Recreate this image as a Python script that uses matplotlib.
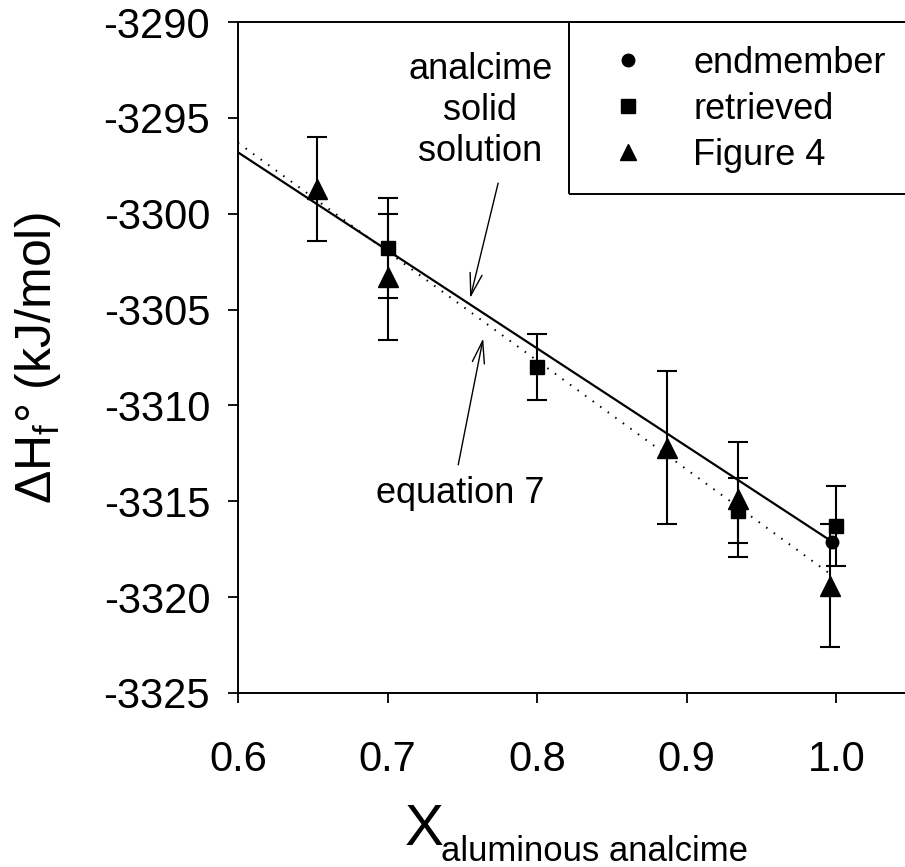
import matplotlib
matplotlib.use('Agg')
import matplotlib.pyplot as plt
from matplotlib.lines import Line2D
from matplotlib.patches import Rectangle

plt.rcParams['font.family'] = ['Liberation Sans', 'DejaVu Sans']
plt.rcParams['mathtext.fontset'] = 'custom'
plt.rcParams['mathtext.rm'] = 'Liberation Sans'

# data
x_end = [0.997]
y_end = [-3317.1]

x_ret = [0.700, 0.800, 0.934, 1.000]
y_ret = [-3301.8, -3308.0, -3315.5, -3316.3]
err_ret = [2.6, 1.7, 1.7, 2.1]

x_fig4 = [0.653, 0.700, 0.887, 0.934, 0.996]
y_fig4 = [-3298.7, -3303.3, -3312.2, -3314.9, -3319.4]
err_fig4 = [2.7, 3.3, 4.0, 3.0, 3.2]

# analcime solid solution (solid) and equation 7 (dotted)
ss_x = [0.6, 0.997]
ss_y = [-3296.8, -3317.1]
eq7_x = [0.6, 0.996]
eq7_y = [-3296.3, -3318.8]

xticks = [0.6, 0.7, 0.8, 0.9, 1.0]
yticks = [-3290, -3295, -3300, -3305, -3310, -3315, -3320, -3325]

W, H = 905, 867
fig = plt.figure(figsize=(W / 100, H / 100), dpi=100)
ax = fig.add_axes([238 / W, 1 - 693 / H, (W - 238) / W, (693 - 22) / H])

ax.plot(ss_x, ss_y, color='black', lw=1.6)
ax.plot(eq7_x, eq7_y, color='black', lw=1.4, linestyle=(0, (0.8, 4.0)))

eb = dict(ecolor='black', elinewidth=1.5, capsize=7, capthick=1.5, linestyle='none', color='black')
ax.errorbar(x_ret, y_ret, yerr=err_ret, marker='s', ms=10.5, **eb)
ax.errorbar(x_fig4, y_fig4, yerr=err_fig4, marker='^', ms=14, **eb)
ax.plot(x_end, y_end, marker='o', ms=9, color='black', linestyle='none')

ax.set_xlim(0.6, 0.6 + (W - 238) / 1496)
ax.set_ylim(-3325, -3290)
ax.set_xticks(xticks)
ax.set_xticklabels([f'{v:.1f}' for v in xticks])
ax.set_yticks(yticks)
ax.set_yticklabels([str(v) for v in yticks])
ax.tick_params(direction='out', length=7, width=1.3, labelsize=30)
ax.tick_params(axis='y', pad=13)
ax.tick_params(axis='x', pad=27)
ax.spines['right'].set_visible(False)
for s in ['left', 'bottom', 'top']:
    ax.spines[s].set_linewidth(1.4)

# annotations
ax.text(0.762, -3294.6, 'analcime\nsolid\nsolution', ha='center', va='center',
        fontsize=26, linespacing=1.22)
ax.annotate('', xy=(0.7552, -3304.4), xytext=(0.7739, -3298.4),
            arrowprops=dict(arrowstyle='->,head_length=0.8,head_width=0.22',
                            mutation_scale=20, lw=1.0, color='black',
                            shrinkA=0, shrinkB=0))
ax.text(0.7485, -3314.6, 'equation 7', ha='center', va='center', fontsize=26)
ax.annotate('', xy=(0.7639, -3306.5), xytext=(0.7472, -3313.1),
            arrowprops=dict(arrowstyle='->,head_length=0.8,head_width=0.22',
                            mutation_scale=20, lw=1.0, color='black',
                            shrinkA=0, shrinkB=0))

# legend with its box running off the right edge
handles = [Line2D([], [], marker='o', ms=9, color='black', linestyle='none'),
           Line2D([], [], marker='s', ms=10, color='black', linestyle='none'),
           Line2D([], [], marker='^', ms=12, color='black', linestyle='none')]
fig.legend(handles, ['endmember', 'retrieved', 'Figure 4'], loc='upper left',
           bbox_to_anchor=(610 / W, 1 - 46 / H), frameon=False, fontsize=26,
           handlelength=1.0, handletextpad=1.3, labelspacing=0.3,
           borderpad=0, borderaxespad=0)
fig.patches.append(Rectangle((569 / W, 1 - 194 / H), 0.5, (194 - 22) / H,
                             transform=fig.transFigure, fill=False,
                             lw=1.4, edgecolor='black'))

# axis labels
fig.text(38 / W, 1 - 358 / H, r'ΔH$_\mathrm{f}$° (kJ/mol)', rotation=90,
         ha='center', va='center', fontsize=36)
fig.text(405 / W, 1 - 845 / H, 'X', fontsize=42, va='baseline')
fig.text(441 / W, 1 - 861 / H, 'aluminous analcime', fontsize=25, va='baseline')

fig.savefig('out.png', dpi=100)
